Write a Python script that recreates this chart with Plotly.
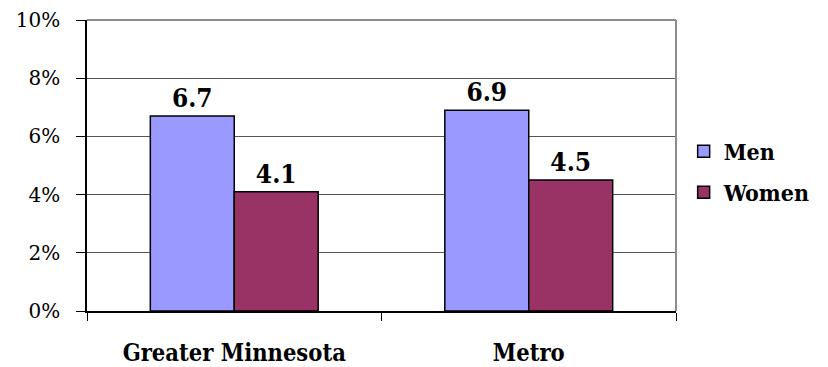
import plotly.graph_objects as go

# Share of workers, by region and sex (percent)
regions = ["Greater Minnesota", "Metro"]
men = [6.7, 6.9]
women = [4.1, 4.5]
y_ticks = [0, 2, 4, 6, 8, 10]
y_tick_labels = [f"{v}%" for v in y_ticks]

SERIF = "DejaVu Serif"
SERIF_BOLD = "DejaVu Serif Condensed, DejaVu Serif"

fig = go.Figure()
for name, vals, color in [("Men", men, "#9999FF"), ("Women", women, "#993366")]:
    fig.add_trace(go.Bar(
        name=name,
        legendgroup=name,
        x=regions,
        y=vals,
        marker=dict(color=color, line=dict(color="black", width=1.5)),
        text=[f"{v:.1f}" for v in vals],
        textposition="outside",
        textfont=dict(family=SERIF_BOLD, size=26, color="black", weight="bold"),
        cliponaxis=False,
        constraintext="none",
    ))

fig.update_layout(
    width=828,
    height=367,
    margin=dict(l=87, r=148, t=20, b=56),
    paper_bgcolor="white",
    plot_bgcolor="white",
    barmode="group",
    bargap=0.43,
    bargroupgap=0,
    font=dict(family=SERIF, color="black"),
    legend=dict(
        x=1.013, y=0.478, xanchor="left", yanchor="middle",
        font=dict(family=SERIF_BOLD, size=23, color="black", weight="bold"),
        bgcolor="rgba(0,0,0,0)",
        tracegroupgap=8,
    ),
    xaxis=dict(
        automargin=False,
        showline=True, linecolor="black", linewidth=1.5,
        ticks="outside", ticklen=8, tickcolor="black", tickwidth=1,
        tickson="boundaries",
        ticklabelstandoff=20,
        tickfont=dict(family=SERIF_BOLD, size=23.5, color="black", weight="bold"),
        showgrid=False,
    ),
    yaxis=dict(
        automargin=False,
        range=[0, 10],
        tickmode="array",
        tickvals=y_ticks,
        ticktext=y_tick_labels,
        showline=True, linecolor="black", linewidth=1.5,
        ticks="outside", ticklen=9, tickcolor="black", tickwidth=1,
        ticklabelstandoff=12,
        tickfont=dict(family=SERIF, size=20, color="black"),
        showgrid=True, gridcolor="#555555", gridwidth=1,
        zeroline=False,
    ),
)

# Gray frame on the top and right edges of the plotting area
fig.add_shape(type="line", xref="x domain", yref="y domain",
              x0=0, x1=1, y0=1, y1=1, line=dict(color="#8c8c8c", width=2))
fig.add_shape(type="line", xref="x domain", yref="y domain",
              x0=1, x1=1, y0=0, y1=1, line=dict(color="#8c8c8c", width=2))

fig.write_html("out.html")
